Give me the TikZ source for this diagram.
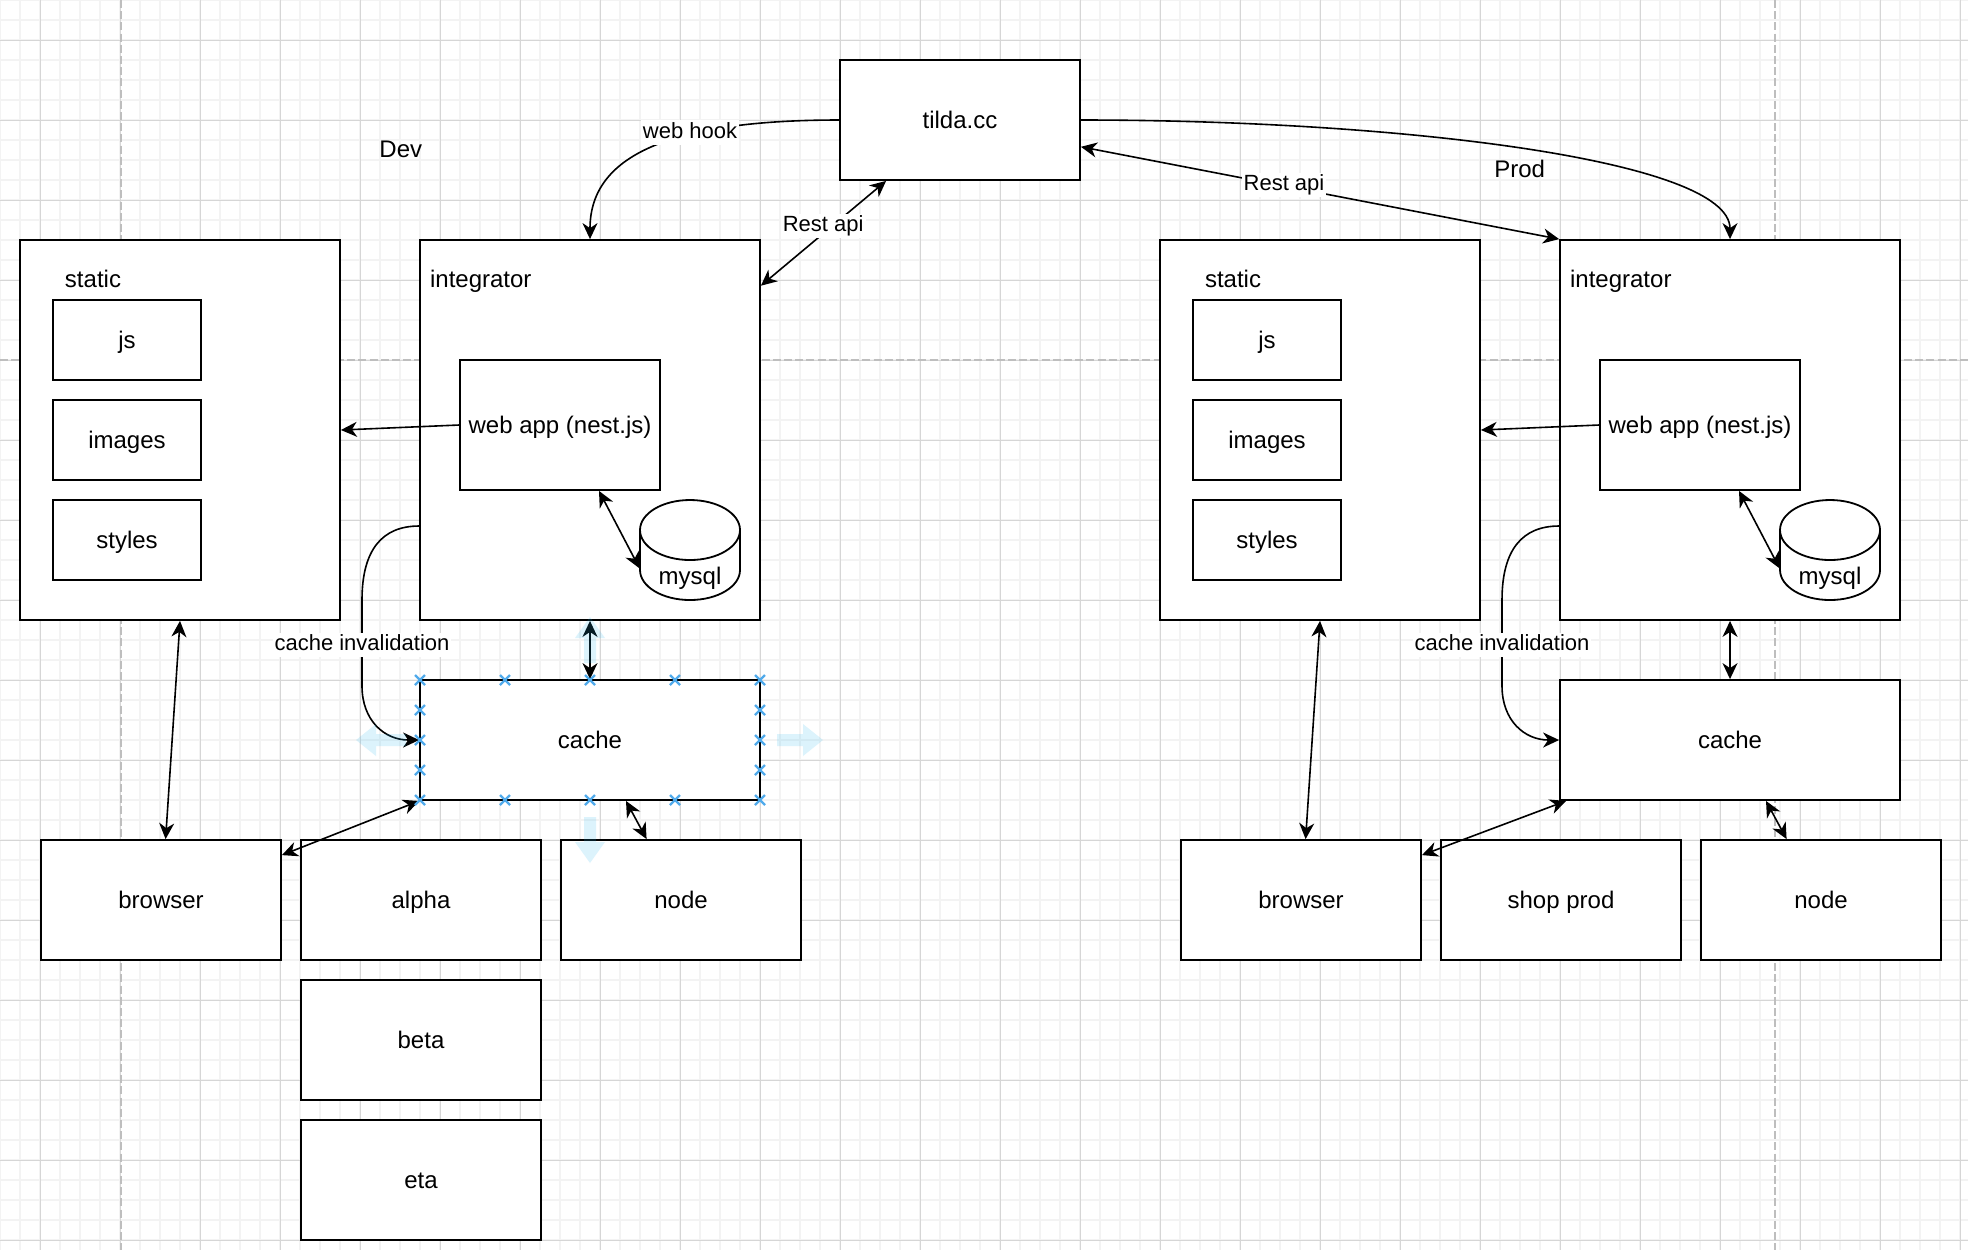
\documentclass[tikz,border=0pt]{standalone}
\usepackage{fontspec}
\setmainfont{Liberation Sans}
\usetikzlibrary{arrows.meta,calc}
\definecolor{gridminor}{RGB}{243,243,243}
\definecolor{gridmajor}{RGB}{214,214,214}
\definecolor{pagebrk}{RGB}{190,190,190}
\definecolor{handlecol}{RGB}{80,170,235}
\definecolor{hintcol}{RGB}{41,182,242}
\newcommand\boxat[6]{\node[box, minimum width=#4pt, minimum height=#5pt] (#1) at ({#2+#4/2},{#3+#5/2}) {#6};}
\newcommand\dbcyl[3]{%
  \draw[line width=0.9pt, fill=white] ({#2},{#3+15}) -- ({#2},{#3+35}) arc[start angle=180,end angle=360,x radius=25pt,y radius=15pt] -- ({#2+50},{#3+15}) arc[start angle=0,end angle=180,x radius=25pt,y radius=15pt] -- cycle;
  \draw[line width=0.9pt] ({#2},{#3+15}) arc[start angle=180,end angle=360,x radius=25pt,y radius=15pt];
  \node[inner sep=0pt, minimum width=50pt, minimum height=50pt] (#1) at ({#2+25},{#3+25}) {};
  \node[txt] at ({#2+25},{#3+39.3}) {mysql};}
\newcommand\hmark[2]{\draw[handlecol, line width=1.1pt] ({#1-2.5},{#2-2.5}) -- ({#1+2.5},{#2+2.5}) ({#1-2.5},{#2+2.5}) -- ({#1+2.5},{#2-2.5});}
\begin{document}
\begin{tikzpicture}[x=1pt,y=-1pt,
  box/.style={draw, line width=0.9pt, fill=white, inner sep=0pt, text height=11.1pt, text depth=2.6pt, font=\fontsize{12pt}{14pt}\selectfont},
  txt/.style={inner sep=0pt, text height=8.6pt, text depth=2.6pt, font=\fontsize{12pt}{14pt}\selectfont},
  elabel/.style={fill=white, inner sep=1pt, text height=7.9pt, text depth=2.4pt, yshift=-1pt, font=\fontsize{11pt}{13pt}\selectfont},
  conn/.style={line width=0.8pt, -{Stealth[length=8pt,width=7.5pt,inset=2.5pt]}},
  dconn/.style={line width=0.8pt, {Stealth[length=8pt,width=7.5pt,inset=2.5pt]}-{Stealth[length=8pt,width=7.5pt,inset=2.5pt]}},
  hint/.style={fill=hintcol, fill opacity=0.16, draw=none}]
\useasboundingbox (0,0) rectangle (984,625);
\fill[white] (0,0) rectangle (984,625);
% grid
\foreach \x in {0,10,...,980} \draw[gridminor, line width=0.8pt] (\x,0) -- (\x,625);
\foreach \y in {0,10,...,620} \draw[gridminor, line width=0.8pt] (0,\y) -- (984,\y);
\foreach \x in {20,60,...,980} \draw[gridmajor, line width=0.5pt] (\x,0) -- (\x,625);
\foreach \y in {20,60,...,620} \draw[gridmajor, line width=0.5pt] (0,\y) -- (984,\y);
% page breaks
\draw[pagebrk, line width=0.6pt, dash pattern=on 4pt off 1.6pt] (60.5,0) -- (60.5,625);
\draw[pagebrk, line width=0.6pt, dash pattern=on 4pt off 1.6pt] (887.5,0) -- (887.5,625);
\draw[pagebrk, line width=0.6pt, dash pattern=on 4pt off 1.6pt] (0,180) -- (984,180);

% titles
\node[txt] at (200.4,75.5) {Dev};
\node[txt] at (759.8,85.5) {Prod};
\boxat{tilda}{420}{30}{120}{60}{tilda.cc}

% ---------- Dev ----------
\boxat{dstatic}{10}{120}{160}{190}{}
\node[txt] at (46.5,140.5) {static};
\boxat{djs}{26.5}{150}{74}{40}{js}
\boxat{dimages}{26.5}{200}{74}{40}{images}
\boxat{dstyles}{26.5}{250}{74}{40}{styles}
\boxat{dint}{210}{120}{170}{190}{}
\node[txt] at (240.4,140.5) {integrator};
\boxat{dweb}{230}{180}{100}{65}{web app (nest.js)}
\dbcyl{ddb}{320}{250}
\boxat{dcache}{210}{340}{170}{60}{cache}
\boxat{dbrowser}{20.5}{420}{120}{60}{browser}
\boxat{dalpha}{150.5}{420}{120}{60}{alpha}
\boxat{dnode}{280.5}{420}{120}{60}{node}
\boxat{dbeta}{150.5}{490}{120}{60}{beta}
\boxat{deta}{150.5}{560}{120}{60}{eta}

% ---------- Prod ----------
\boxat{pstatic}{580}{120}{160}{190}{}
\node[txt] at (616.5,140.5) {static};
\boxat{pjs}{596.5}{150}{74}{40}{js}
\boxat{pimages}{596.5}{200}{74}{40}{images}
\boxat{pstyles}{596.5}{250}{74}{40}{styles}
\boxat{pint}{780}{120}{170}{190}{}
\node[txt] at (810.4,140.5) {integrator};
\boxat{pweb}{800}{180}{100}{65}{web app (nest.js)}
\dbcyl{pdb}{890}{250}
\boxat{pcache}{780}{340}{170}{60}{cache}
\boxat{pbrowser}{590.5}{420}{120}{60}{browser}
\boxat{pshop}{720.5}{420}{120}{60}{shop prod}
\boxat{pnode}{850.5}{420}{120}{60}{node}

% ---------- Dev connectors ----------
\draw[conn] (dweb.west) -- (dstatic.east);
\draw[dconn] ([xshift=19.5pt]dweb.south) -- ([yshift=-9.2pt]ddb.west);
\draw[dconn] (dint.south) -- (dcache.north);
\draw[conn] ([yshift=-48pt]dint.west) .. controls (191,263) and (181,275) .. (181,300) -- node[elabel] {cache invalidation} (181,343) .. controls (181,360) and (192,370) .. (dcache.west);
\draw[dconn] (dstatic.south) -- ([xshift=2.3pt]dbrowser.north);
\draw[dconn] (dcache.south west) -- ([yshift=-8pt]dbrowser.north east);
\draw[dconn] ([xshift=18pt]dcache.south) -- ([xshift=-17.2pt]dnode.north);

% ---------- Prod connectors ----------
\draw[conn] (pweb.west) -- (pstatic.east);
\draw[dconn] ([xshift=19.5pt]pweb.south) -- ([yshift=-9.2pt]pdb.west);
\draw[dconn] (pint.south) -- (pcache.north);
\draw[conn] ([yshift=-48pt]pint.west) .. controls (761,263) and (751,275) .. (751,300) -- node[elabel] {cache invalidation} (751,343) .. controls (751,360) and (762,370) .. (pcache.west);
\draw[dconn] (pstatic.south) -- ([xshift=2.3pt]pbrowser.north);
\draw[dconn] ([xshift=3.5pt]pcache.south west) -- ([yshift=-8pt]pbrowser.north east);
\draw[dconn] ([xshift=18pt]pcache.south) -- ([xshift=-17.2pt]pnode.north);

% ---------- tilda connectors ----------
\draw[conn] (tilda.west) .. controls (330,60) and (295,80) .. (dint.north);
\node[elabel] at (345,65.3) {web hook};
\draw[dconn] ([xshift=23.5pt]tilda.south west) -- ([yshift=-23.3pt]dint.north east);
\node[elabel] at (411.6,112) {Rest api};
\draw[conn] (tilda.east) .. controls (700,60) and (865,80) .. (pint.north);
\draw[dconn] ([yshift=-13.4pt]tilda.east) -- (pint.north west);
\node[elabel] at (642,91.5) {Rest api};

% ---------- selection overlay on dev cache ----------
\fill[hint] (203,367) -- (188,367) -- (188,362) -- (178,370) -- (188,378) -- (188,373) -- (203,373) -- cycle;
\fill[hint] (388.5,367) -- (401.5,367) -- (401.5,362) -- (411.5,370) -- (401.5,378) -- (401.5,373) -- (388.5,373) -- cycle;
\fill[hint] (292,408.5) -- (292,421) -- (287.5,421) -- (295,431.5) -- (302.5,421) -- (298,421) -- (298,408.5) -- cycle;
\fill[hint] (292,331.5) -- (292,319) -- (287.5,319) -- (295,308.5) -- (302.5,319) -- (298,319) -- (298,331.5) -- cycle;
\foreach \x in {210,252.5,295,337.5,380} {\hmark{\x}{340}\hmark{\x}{400}}
\foreach \y in {355,370,385} {\hmark{210}{\y}\hmark{380}{\y}}
\end{tikzpicture}
\end{document}
